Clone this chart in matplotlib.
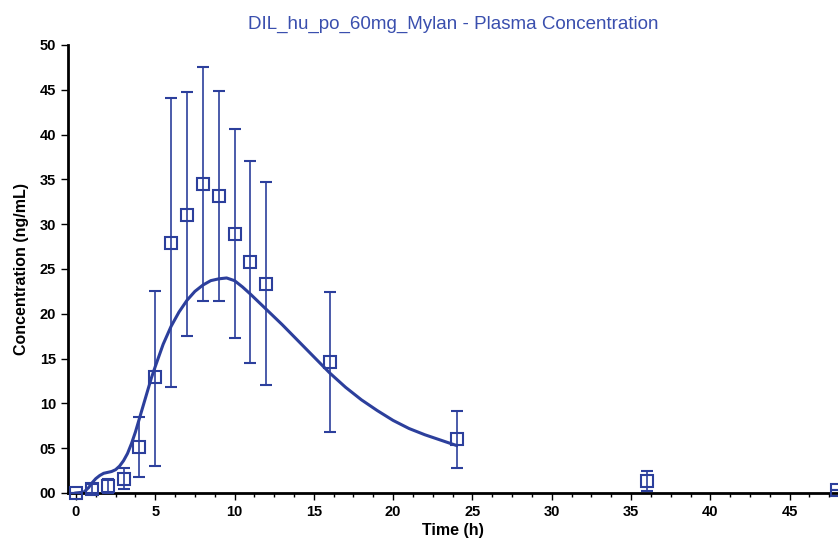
import matplotlib
matplotlib.use("Agg")
import matplotlib.pyplot as plt
from matplotlib.ticker import MultipleLocator, FuncFormatter

plt.rcParams['font.family'] = ['Liberation Sans', 'DejaVu Sans']

# Observed data (mean with lower/upper bars)
obs_time = [0, 1, 2, 3, 4, 5, 6, 7, 8, 9, 10, 11, 12, 16, 24, 36, 48]
obs_conc = [0.0, 0.5, 0.8, 1.6, 5.1, 12.9, 27.9, 31.0, 34.5, 33.1, 28.9, 25.8, 23.3, 14.6, 6.0, 1.3, 0.3]
err_low = [0.0, 0.0, 0.0, 0.5, 1.8, 3.0, 11.8, 17.5, 21.4, 21.4, 17.3, 14.5, 12.1, 6.8, 2.8, 0.2, 0.3]
err_high = [0.0, 1.0, 1.6, 2.8, 8.5, 22.6, 44.1, 44.7, 47.6, 44.9, 40.6, 37.1, 34.7, 22.4, 9.2, 2.4, 0.3]

# Simulated curve
sim_time = [0, 0.5, 0.8, 1.0, 1.25, 1.5, 1.75, 2.0, 2.25, 2.5, 2.75, 3.0, 3.25, 3.5, 3.75, 4.0,
            4.25, 4.5, 4.75, 5.0, 5.5, 6.0, 6.5, 7.0, 7.5, 8.0, 8.5, 9.0, 9.5, 10.0, 10.5,
            11.0, 12.0, 13.0, 14.0, 15.0, 16.0, 17.0, 18.0, 19.0, 20.0, 21.0, 22.0, 23.0, 24.0]
sim_conc = [0.0, 0.1, 0.6, 1.1, 1.6, 1.95, 2.2, 2.3, 2.4, 2.6, 3.0, 3.6, 4.4, 5.5, 6.8, 8.3,
            9.8, 11.3, 12.8, 14.1, 16.6, 18.6, 20.2, 21.5, 22.5, 23.2, 23.7, 23.9, 24.0, 23.7, 23.0,
            22.2, 20.5, 18.8, 17.0, 15.2, 13.4, 11.8, 10.4, 9.2, 8.1, 7.2, 6.5, 5.9, 5.3]

x_ticks = [0, 5, 10, 15, 20, 25, 30, 35, 40, 45]
y_ticks = [0, 5, 10, 15, 20, 25, 30, 35, 40, 45, 50]

blue = '#2c3f9c'

fig = plt.figure(figsize=(8.38, 5.47), dpi=100)
ax = fig.add_axes([68/838, 54/547, 770/838, 448/547])

ax.plot(sim_time, sim_conc, color=blue, lw=2.2, zorder=2, solid_joinstyle='round')
yerr = [[c - l for c, l in zip(obs_conc, err_low)], [h - c for c, h in zip(obs_conc, err_high)]]
ax.errorbar(obs_time, obs_conc, yerr=yerr, fmt='s', mfc='none', mec=blue, ms=9, mew=1.5,
            ecolor=blue, elinewidth=1.2, capsize=4, capthick=1.2, clip_on=False, zorder=3)

ax.set_xlim(-0.5, 48.05)
ax.set_ylim(0, 50)
ax.set_xticks(x_ticks)
ax.set_yticks(y_ticks)
ax.xaxis.set_minor_locator(MultipleLocator(1.25))
ax.yaxis.set_major_formatter(FuncFormatter(lambda v, p: f"{int(v):02d}"))

for s in ['top', 'right']:
    ax.spines[s].set_visible(False)
for s in ['left', 'bottom']:
    ax.spines[s].set_linewidth(2)
    ax.spines[s].set_color('black')

ax.tick_params(axis='both', which='major', length=5, width=1, direction='out', labelsize=10.5)
ax.tick_params(axis='x', which='minor', length=3, width=1, direction='out')
for lab in ax.get_xticklabels() + ax.get_yticklabels():
    lab.set_fontweight('bold')

ax.set_xlabel('Time (h)', fontsize=11.5, fontweight='bold', labelpad=3)
ax.set_ylabel('Concentration (ng/mL)', fontsize=11.5, fontweight='bold', labelpad=8)
ax.set_title('DIL_hu_po_60mg_Mylan - Plasma Concentration', fontsize=13.5, color='#3a4fae', pad=12)

fig.savefig('out.png', dpi=100)
